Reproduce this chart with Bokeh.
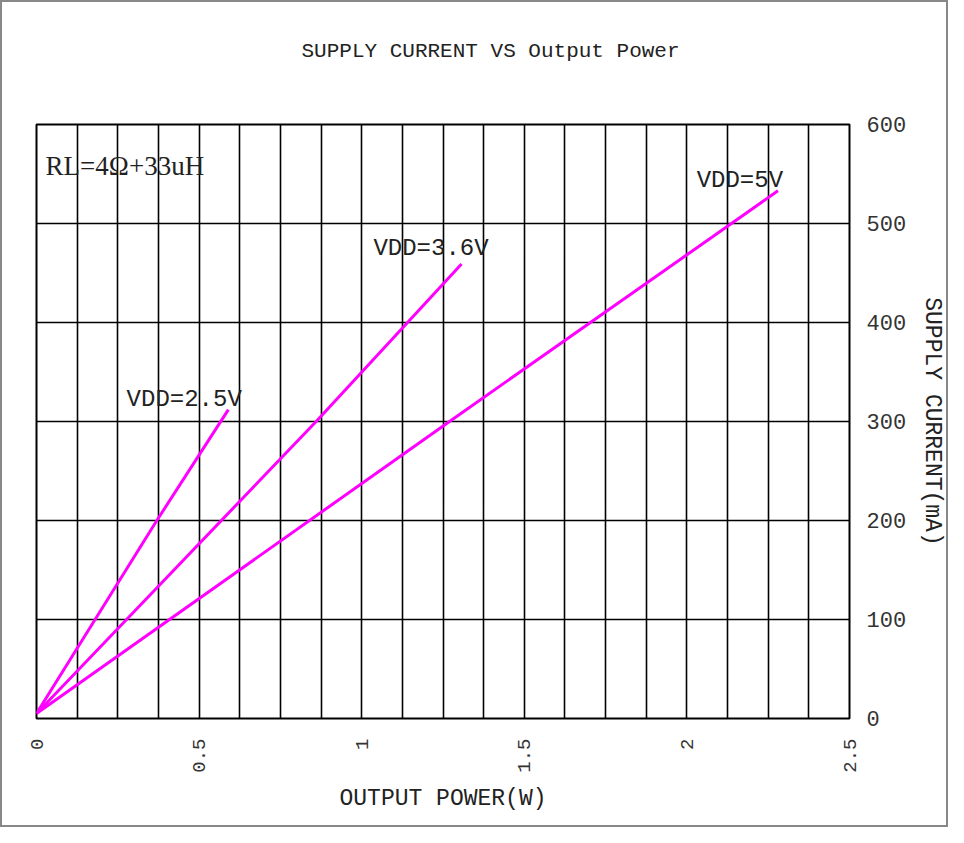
import math
from bokeh.plotting import figure
from bokeh.models import Range1d, FixedTicker, Label, Title, CustomJSTickFormatter
from bokeh.embed import file_html
from bokeh.resources import INLINE
import numpy as np

# ---- data ----
title_text = "SUPPLY CURRENT VS Output Power"
x_label = "OUTPUT POWER(W)"
y_label = "SUPPLY CURRENT(mA)"
x_ticks = [0, 0.5, 1, 1.5, 2, 2.5]
y_ticks = [0, 100, 200, 300, 400, 500, 600]

p25_x = [0, 0.37, 0.59]
p25_y = [5, 200, 312]
p36_x = [0, 0.86, 1.307]
p36_y = [5, 300, 459]
p50_x = [0, 1.27, 2.28]
p50_y = [5, 300, 533]

series_names = ["VDD=2.5V", "VDD=3.6V", "VDD=5V"]
note_text = "RL=4\u03a9+33uH"

MAG = "#ff00ff"
MONO = "Liberation Mono"

p = figure(width=948, height=827, x_range=Range1d(0, 2.5), y_range=Range1d(0, 600),
           output_backend="svg", toolbar_location=None, y_axis_location="right", title=None,
           min_border_left=34, min_border_right=101, min_border_top=122, min_border_bottom=111)
p.styles = {"border": "2px solid #888", "box-sizing": "border-box"}
p.background_fill_color = "white"
p.border_fill_color = "white"
p.outline_line_color = "black"
p.outline_line_width = 2

# title (spacer panel next to the frame, then the real title above it)
p.add_layout(Title(text=" ", text_font_size="2px", standoff=53), "above")
p.add_layout(Title(text=title_text, align="left", offset=265, text_font=MONO,
                   text_font_size="21px", text_font_style="normal", text_color="#222",
                   standoff=10), "above")

# grid
p.xgrid.ticker = FixedTicker(ticks=list(np.arange(0, 2.5001, 0.125)))
p.ygrid.ticker = FixedTicker(ticks=y_ticks)
for g in (p.xgrid, p.ygrid):
    g.grid_line_color = "black"
    g.grid_line_width = 1.6
    g.grid_line_alpha = 1

# axes
xa = p.xaxis[0]
xa.ticker = FixedTicker(ticks=x_ticks)
xa.formatter = CustomJSTickFormatter(code="return tick.toString()")
xa.major_label_orientation = math.pi / 2
xa.axis_label = x_label
ya = p.yaxis[0]
ya.ticker = FixedTicker(ticks=y_ticks)
ya.axis_label = y_label
for a in (xa, ya):
    a.axis_line_color = None
    a.major_tick_out = 0
    a.major_tick_in = 0
    a.minor_tick_out = 0
    a.minor_tick_in = 0
    a.axis_label_text_font = MONO
    a.axis_label_text_font_size = "23px"
    a.axis_label_text_font_style = "normal"
    a.axis_label_text_color = "#222"
    a.major_label_text_font = MONO
    a.major_label_text_color = "#333"
xa.major_label_text_font_size = "19px"
xa.major_label_standoff = 20
xa.axis_label_standoff = 10
ya.major_label_text_font_size = "22px"
ya.major_label_standoff = 17
ya.axis_label_standoff = 10

# lines
for xs, ys in ((p25_x, p25_y), (p36_x, p36_y), (p50_x, p50_y)):
    p.line(xs, ys, line_color=MAG, line_width=3)

# labels
for (lx, ly), txt in zip(((0.277, 322), (1.036, 475), (2.03, 543)), series_names):
    p.add_layout(Label(x=lx, y=ly, text=txt, text_font=MONO, text_font_size="24px",
                       text_color="#222", text_baseline="alphabetic"))
p.add_layout(Label(x=0.028, y=558, text=note_text, text_font="Liberation Serif",
                   text_font_size="27px", text_color="#222", text_baseline="alphabetic"))

open("out.html", "w").write(file_html(p, INLINE))
